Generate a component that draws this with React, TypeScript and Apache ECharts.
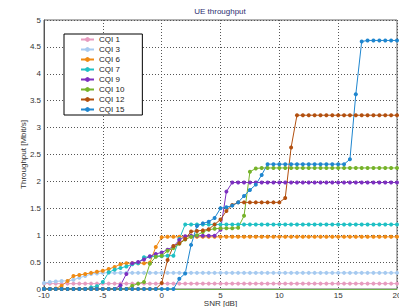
import React, { useEffect, useRef } from "react";
import * as echarts from "echarts";

const snr = [
  -10, -9.5, -9, -8.5, -8, -7.5, -7, -6.5, -6, -5.5, -5, -4.5, -4, -3.5, -3, -2.5, -2, -1.5, -1, -0.5,
  0, 0.5, 1, 1.5, 2, 2.5, 3, 3.5, 4, 4.5, 5, 5.5, 6, 6.5, 7, 7.5, 8, 8.5, 9, 9.5,
  10, 10.5, 11, 11.5, 12, 12.5, 13, 13.5, 14, 14.5, 15, 15.5, 16, 16.5, 17, 17.5, 18, 18.5, 19, 19.5, 20,
];

const cqi1 = [
  0.1, 0.1, 0.1, 0.1, 0.1, 0.1, 0.1, 0.1, 0.1, 0.1, 0.1, 0.1, 0.1, 0.1, 0.1, 0.1, 0.1, 0.1, 0.1, 0.1,
  0.1, 0.1, 0.1, 0.1, 0.1, 0.1, 0.1, 0.1, 0.1, 0.1, 0.1, 0.1, 0.1, 0.1, 0.1, 0.1, 0.1, 0.1, 0.1, 0.1,
  0.1, 0.1, 0.1, 0.1, 0.1, 0.1, 0.1, 0.1, 0.1, 0.1, 0.1, 0.1, 0.1, 0.1, 0.1, 0.1, 0.1, 0.1, 0.1, 0.1, 0.1,
];
const cqi3 = [
  0.11, 0.13, 0.14, 0.15, 0.15, 0.17, 0.21, 0.24, 0.28, 0.29, 0.3, 0.3, 0.3, 0.3, 0.3, 0.3, 0.3, 0.3, 0.3, 0.3,
  0.3, 0.3, 0.3, 0.3, 0.3, 0.3, 0.3, 0.3, 0.3, 0.3, 0.3, 0.3, 0.3, 0.3, 0.3, 0.3, 0.3, 0.3, 0.3, 0.3,
  0.3, 0.3, 0.3, 0.3, 0.3, 0.3, 0.3, 0.3, 0.3, 0.3, 0.3, 0.3, 0.3, 0.3, 0.3, 0.3, 0.3, 0.3, 0.3, 0.3, 0.3,
];
const cqi6 = [
  0, 0, 0.01, 0.06, 0.15, 0.24, 0.26, 0.28, 0.3, 0.32, 0.34, 0.37, 0.41, 0.46, 0.48, 0.48, 0.48, 0.48, 0.49, 0.78,
  0.96, 0.97, 0.97, 0.97, 0.97, 0.97, 0.97, 0.97, 0.97, 0.97, 0.97, 0.97, 0.97, 0.97, 0.97, 0.97, 0.97, 0.97, 0.97, 0.97,
  0.97, 0.97, 0.97, 0.97, 0.97, 0.97, 0.97, 0.97, 0.97, 0.97, 0.97, 0.97, 0.97, 0.97, 0.97, 0.97, 0.97, 0.97, 0.97, 0.97, 0.97,
];
const cqi7 = [
  0, 0, 0, 0, 0, 0, 0, 0, 0.03, 0.05, 0.13, 0.31, 0.36, 0.39, 0.42, 0.46, 0.48, 0.59, 0.6, 0.61,
  0.61, 0.62, 0.62, 0.93, 1.2, 1.2, 1.2, 1.2, 1.2, 1.2, 1.2, 1.2, 1.2, 1.2, 1.2, 1.2, 1.2, 1.2, 1.2, 1.2,
  1.2, 1.2, 1.2, 1.2, 1.2, 1.2, 1.2, 1.2, 1.2, 1.2, 1.2, 1.2, 1.2, 1.2, 1.2, 1.2, 1.2, 1.2, 1.2, 1.2, 1.2,
];
const cqi9 = [
  0, 0, 0, 0, 0, 0, 0, 0, 0, 0, 0, 0, 0, 0.07, 0.28, 0.48, 0.5, 0.55, 0.61, 0.65,
  0.68, 0.73, 0.79, 0.91, 0.98, 0.99, 0.99, 0.99, 0.99, 0.99, 1.1, 1.81, 1.98, 1.98, 1.98, 1.98, 1.98, 1.98, 1.98, 1.98,
  1.98, 1.98, 1.98, 1.98, 1.98, 1.98, 1.98, 1.98, 1.98, 1.98, 1.98, 1.98, 1.98, 1.98, 1.98, 1.98, 1.98, 1.98, 1.98, 1.98, 1.98,
];
const cqi10 = [
  0, 0, 0, 0, 0, 0, 0, 0, 0, 0, 0, 0, 0, 0, 0, 0.06, 0.1, 0.13, 0.47, 0.6,
  0.62, 0.71, 0.76, 0.84, 0.92, 0.97, 1.0, 1.06, 1.1, 1.12, 1.13, 1.13, 1.13, 1.14, 1.36, 2.18, 2.24, 2.25, 2.25, 2.25,
  2.25, 2.25, 2.25, 2.25, 2.25, 2.25, 2.25, 2.25, 2.25, 2.25, 2.25, 2.25, 2.25, 2.25, 2.25, 2.25, 2.25, 2.25, 2.25, 2.25, 2.25,
];
const cqi12 = [
  0, 0, 0, 0, 0, 0, 0, 0, 0, 0, 0, 0, 0, 0, 0, 0, 0, 0, 0, 0,
  0.11, 0.54, 0.8, 0.85, 0.93, 1.07, 1.08, 1.09, 1.11, 1.2, 1.29, 1.45, 1.56, 1.61, 1.61, 1.61, 1.61, 1.61, 1.61, 1.61,
  1.61, 1.69, 2.63, 3.23, 3.23, 3.23, 3.23, 3.23, 3.23, 3.23, 3.23, 3.23, 3.23, 3.23, 3.23, 3.23, 3.23, 3.23, 3.23, 3.23, 3.23,
];
const cqi15 = [
  0, 0, 0, 0, 0, 0, 0, 0, 0, 0, 0, 0, 0, 0, 0, 0, 0, 0, 0, 0,
  0, 0, 0, 0.19, 0.29, 0.82, 1.17, 1.22, 1.25, 1.32, 1.5, 1.52, 1.55, 1.61, 1.73, 1.84, 1.94, 2.12, 2.32, 2.32,
  2.32, 2.32, 2.32, 2.32, 2.32, 2.32, 2.32, 2.32, 2.32, 2.32, 2.32, 2.32, 2.41, 3.62, 4.6, 4.62, 4.62, 4.62, 4.62, 4.62, 4.62,
];

const seriesNames = ["CQI 1", "CQI 3", "CQI 6", "CQI 7", "CQI 9", "CQI 10", "CQI 12", "CQI 15"];
const seriesValues = [cqi1, cqi3, cqi6, cqi7, cqi9, cqi10, cqi12, cqi15];
const seriesColors = ["#e79bbf", "#a6caf0", "#ef8a14", "#1fc0c4", "#7d2fc0", "#76b32a", "#b3500f", "#1f86cf"];

const FONT = "'Liberation Sans', Arial, sans-serif";

export default function App() {
  const ref = useRef<HTMLDivElement>(null);
  useEffect(() => {
    const chart = echarts.init(ref.current!, null, { renderer: "svg" });
    chart.setOption({
      animation: false,
      backgroundColor: "#ffffff",
      textStyle: { fontFamily: FONT },
      title: {
        text: "UE throughput",
        left: 220,
        top: 7,
        padding: 0,
        textAlign: "center",
        textStyle: { fontSize: 8, fontWeight: "normal", color: "#2e2e70", fontFamily: FONT },
      },
      legend: {
        orient: "vertical",
        left: 64,
        top: 34,
        padding: [1, 18, 1, 16],
        itemGap: 1,
        itemWidth: 13,
        itemHeight: 6,
        borderColor: "#000",
        borderWidth: 1,
        backgroundColor: "#fff",
        textStyle: { fontSize: 8, color: "#222", lineHeight: 9, fontFamily: FONT },
        data: seriesNames,
      },
      grid: {
        left: 44,
        top: 20,
        right: 2,
        bottom: 18,
        show: true,
        borderColor: "#666",
        borderWidth: 1,
        outerBoundsMode: "none",
        containLabel: false,
      },
      xAxis: {
        type: "value",
        min: -10,
        max: 20,
        interval: 5,
        name: "SNR [dB]",
        nameLocation: "middle",
        nameGap: 10,
        nameMoveOverlap: false,
        nameTextStyle: { fontSize: 8, lineHeight: 8, color: "#333", fontFamily: FONT },
        axisLine: { onZero: false, lineStyle: { color: "#6fb04a", width: 1 } },
        axisTick: { show: false },
        axisLabel: { fontSize: 8, lineHeight: 8, color: "#333", margin: 2, fontFamily: FONT },
        splitLine: { lineStyle: { color: "#555", type: [1, 2], width: 1 } },
      },
      yAxis: {
        type: "value",
        min: 0,
        max: 5,
        interval: 0.5,
        name: "Throughput [Mbit/s]",
        nameLocation: "middle",
        nameGap: 17,
        nameMoveOverlap: false,
        nameTextStyle: { fontSize: 8, color: "#333", fontFamily: FONT },
        axisLine: { show: true, onZero: false, lineStyle: { color: "#555", width: 1 } },
        axisTick: { show: false },
        axisLabel: { fontSize: 8, color: "#333", margin: 3, fontFamily: FONT },
        splitLine: { lineStyle: { color: "#555", type: [1, 2], width: 1 } },
      },
      series: seriesNames.map((name, k) => ({
        name,
        type: "line",
        data: snr.map((x, i) => [x, seriesValues[k][i]]),
        symbol: "circle",
        symbolSize: 4,
        color: seriesColors[k],
        lineStyle: { width: 1, color: seriesColors[k] },
        itemStyle: { color: seriesColors[k] },
      })),
    });
    return () => chart.dispose();
  }, []);
  return (
    <div
      ref={ref}
      style={{ position: "fixed", left: 0, top: 0, width: 399, height: 307 }}
    />
  );
}
